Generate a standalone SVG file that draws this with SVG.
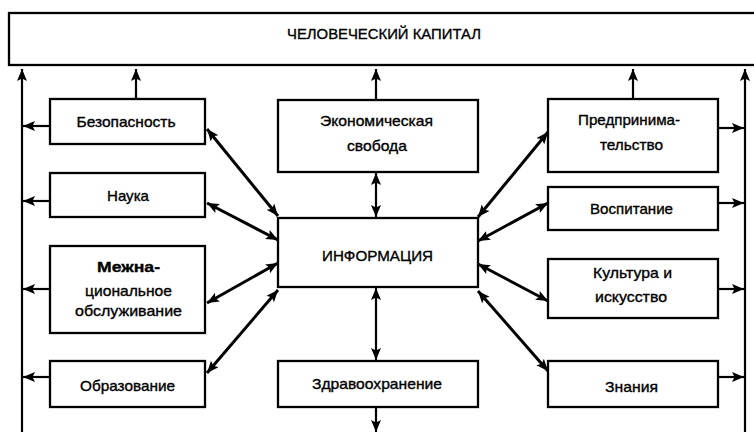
<svg xmlns="http://www.w3.org/2000/svg" width="754" height="432" viewBox="0 0 754 432">
<style>
.box{fill:#fff;stroke:#000;stroke-width:2.3}
.t{font-family:"Liberation Sans",Arial,sans-serif;font-size:15px;fill:#000;stroke:#000;stroke-width:0.35;text-anchor:middle}
.b{font-weight:bold}
.ln{stroke:#000;stroke-width:2.2;fill:none}
.d{stroke:#000;stroke-width:3;fill:none;marker-start:url(#ah);marker-end:url(#ah)}
.s{marker-end:url(#ah)}
.dd{marker-start:url(#ah);marker-end:url(#ah)}
</style>
<defs>
<marker id="ah" markerUnits="userSpaceOnUse" markerWidth="14" markerHeight="12" refX="12" refY="5" orient="auto-start-reverse">
<path d="M0,0 L12,5 L0,10 L2.5,5 z" fill="#000"/>
</marker>
</defs>
<rect width="754" height="432" fill="#fff"/>
<g id="connectors">
<line class="ln s" x1="22" y1="432" x2="22" y2="69"/>
<line class="ln s" x1="745" y1="432" x2="745" y2="69"/>
<line class="ln s" x1="136" y1="99" x2="136" y2="69"/>
<line class="ln s" x1="376" y1="100" x2="376" y2="69"/>
<line class="ln s" x1="633" y1="99" x2="633" y2="69"/>
<line class="ln s" x1="50" y1="126" x2="23" y2="126"/>
<line class="ln s" x1="50" y1="201" x2="23" y2="201"/>
<line class="ln s" x1="50" y1="289" x2="23" y2="289"/>
<line class="ln s" x1="50" y1="377" x2="23" y2="377"/>
<line class="ln s" x1="718" y1="128" x2="744" y2="128"/>
<line class="ln s" x1="718" y1="203" x2="744" y2="203"/>
<line class="ln s" x1="718" y1="289" x2="744" y2="289"/>
<line class="ln s" x1="718" y1="377" x2="744" y2="377"/>
<line class="ln dd" x1="376" y1="173" x2="376" y2="217"/>
<line class="ln dd" x1="376" y1="288" x2="376" y2="360"/>
<line class="ln s" x1="376" y1="408" x2="376" y2="432"/>
<line class="d" x1="207" y1="129" x2="278" y2="216"/>
<line class="d" x1="207" y1="203" x2="278" y2="240"/>
<line class="d" x1="207" y1="303" x2="278" y2="263"/>
<line class="d" x1="207" y1="373" x2="278" y2="290"/>
<line class="d" x1="478" y1="217" x2="548" y2="132"/>
<line class="d" x1="478" y1="241" x2="548" y2="203"/>
<line class="d" x1="478" y1="264" x2="548" y2="301"/>
<line class="d" x1="478" y1="291" x2="548" y2="371"/>
</g>
<g id="capital">
<rect class="box" x="9" y="13" width="760" height="52"/>
<text class="t" x="384" y="39" textLength="194" lengthAdjust="spacingAndGlyphs">ЧЕЛОВЕЧЕСКИЙ КАПИТАЛ</text>
</g>
<g id="bezopasnost">
<rect class="box" x="50" y="99" width="155" height="45"/>
<text class="t" x="126" y="127" textLength="99" lengthAdjust="spacingAndGlyphs">Безопасность</text>
</g>
<g id="nauka">
<rect class="box" x="50" y="173" width="155" height="44"/>
<text class="t" x="128" y="201" textLength="42" lengthAdjust="spacingAndGlyphs">Наука</text>
</g>
<g id="mezhnac">
<rect class="box" x="50" y="246" width="155" height="87"/>
<text class="t b" x="128.5" y="272" textLength="63" lengthAdjust="spacingAndGlyphs">Межна-</text>
<text class="t" x="128.5" y="296" textLength="87" lengthAdjust="spacingAndGlyphs">циональное</text>
<text class="t" x="128.5" y="316" textLength="107" lengthAdjust="spacingAndGlyphs">обслуживание</text>
</g>
<g id="obrazovanie">
<rect class="box" x="50" y="361" width="155" height="46"/>
<text class="t" x="127.5" y="391" textLength="95" lengthAdjust="spacingAndGlyphs">Образование</text>
</g>
<g id="ekonom">
<rect class="box" x="278" y="100" width="200" height="72"/>
<text class="t" x="376.5" y="126" textLength="113" lengthAdjust="spacingAndGlyphs">Экономическая</text>
<text class="t" x="377" y="151" textLength="60" lengthAdjust="spacingAndGlyphs">свобода</text>
</g>
<g id="informaciya">
<rect class="box" x="278" y="218" width="200" height="69"/>
<text class="t" x="377.5" y="261" textLength="111" lengthAdjust="spacingAndGlyphs">ИНФОРМАЦИЯ</text>
</g>
<g id="zdrav">
<rect class="box" x="278" y="361" width="200" height="46"/>
<text class="t" x="377" y="389" textLength="130" lengthAdjust="spacingAndGlyphs">Здравоохранение</text>
</g>
<g id="predpr">
<rect class="box" x="548" y="99" width="170" height="73"/>
<text class="t" x="629" y="125" textLength="102" lengthAdjust="spacingAndGlyphs">Предпринима-</text>
<text class="t" x="631.5" y="150" textLength="63" lengthAdjust="spacingAndGlyphs">тельство</text>
</g>
<g id="vospitanie">
<rect class="box" x="548" y="187" width="170" height="43"/>
<text class="t" x="631.5" y="214" textLength="83" lengthAdjust="spacingAndGlyphs">Воспитание</text>
</g>
<g id="kultura">
<rect class="box" x="548" y="259" width="170" height="59"/>
<text class="t" x="632.5" y="278" textLength="79" lengthAdjust="spacingAndGlyphs">Культура и</text>
<text class="t" x="631" y="302" textLength="72" lengthAdjust="spacingAndGlyphs">искусство</text>
</g>
<g id="znaniya">
<rect class="box" x="548" y="361" width="170" height="46"/>
<text class="t" x="631.5" y="392" textLength="53" lengthAdjust="spacingAndGlyphs">Знания</text>
</g>
</svg>
